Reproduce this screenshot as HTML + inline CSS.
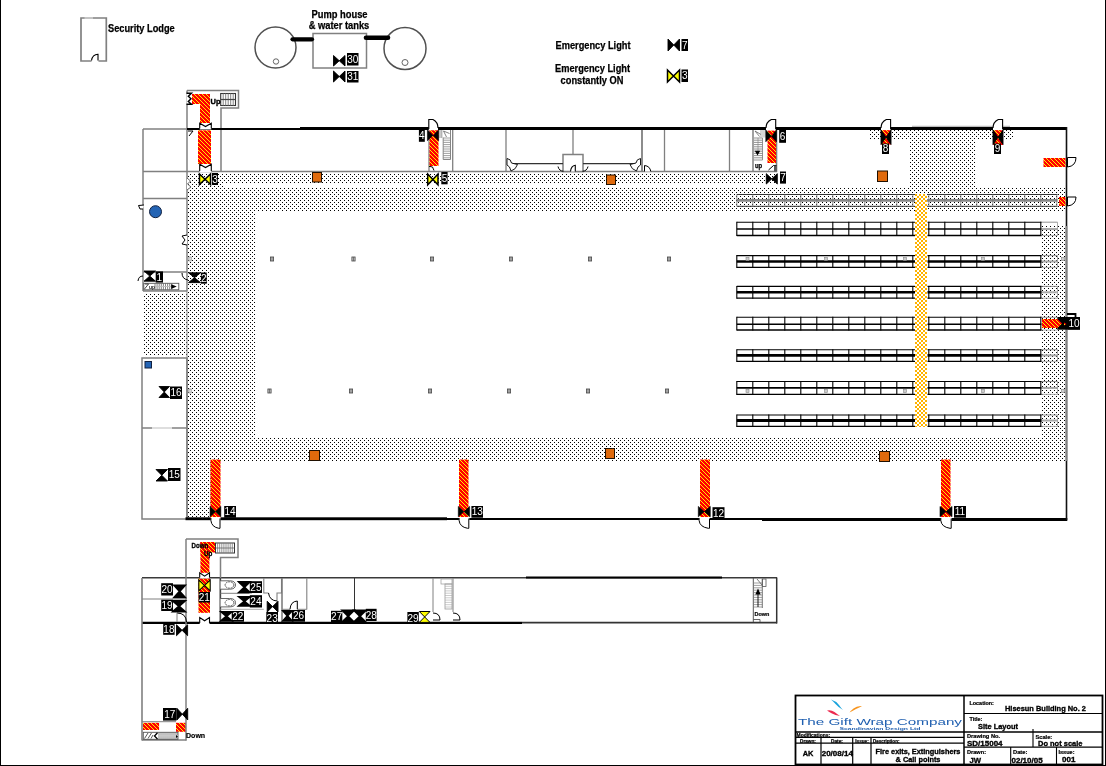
<!DOCTYPE html>
<html><head><meta charset="utf-8"><title>Site Layout</title>
<style>
html,body{margin:0;padding:0;background:#fff;}
body{width:1106px;height:766px;overflow:hidden;font-family:"Liberation Sans",sans-serif;}
svg{display:block;font-family:"Liberation Sans",sans-serif;will-change:transform;}
</style></head><body>
<svg width="1106" height="766" viewBox="0 0 1106 766">
<defs>
<pattern id="dots" x="0" y="0" width="4" height="4" patternUnits="userSpaceOnUse">
<rect x="0" y="0" width="1" height="1" fill="#000"/><rect x="2" y="2" width="1" height="1" fill="#000"/>
</pattern>
<pattern id="amber" x="1" y="0" width="4" height="4" patternUnits="userSpaceOnUse">
<rect x="0" y="0" width="4" height="4" fill="#fff"/><rect x="0" y="0" width="2" height="2" fill="#FFB400"/><rect x="2" y="2" width="2" height="2" fill="#FFB400"/>
</pattern>
<pattern id="hatch" x="0" y="0" width="4" height="4" patternUnits="userSpaceOnUse">
<rect x="0" y="0" width="4" height="4" fill="#FF0000"/>
<path d="M-1 -1L5 5M-1 3L1 5M3 -1L5 1" stroke="#FFEE00" stroke-width="1" fill="none"/>
</pattern>
</defs>
<rect x="0" y="0" width="1106" height="766" fill="#fff"/>
<rect x="188" y="173" width="589" height="10.5" fill="url(#dots)" stroke="none" stroke-width="1" shape-rendering="crispEdges"/>
<rect x="188" y="183" width="35" height="5" fill="url(#dots)" stroke="none" stroke-width="1" shape-rendering="crispEdges"/>
<rect x="188" y="187.5" width="878" height="23.5" fill="url(#dots)" stroke="none" stroke-width="1" shape-rendering="crispEdges"/>
<rect x="188" y="211" width="67.5" height="227" fill="url(#dots)" stroke="none" stroke-width="1" shape-rendering="crispEdges"/>
<rect x="188" y="438" width="878" height="23.5" fill="url(#dots)" stroke="none" stroke-width="1" shape-rendering="crispEdges"/>
<rect x="188" y="461" width="22.5" height="57" fill="url(#dots)" stroke="none" stroke-width="1" shape-rendering="crispEdges"/>
<rect x="1041.5" y="225" width="24.5" height="213" fill="url(#dots)" stroke="none" stroke-width="1" shape-rendering="crispEdges"/>
<rect x="908.5" y="130" width="67.0" height="57" fill="url(#dots)" stroke="none" stroke-width="1" shape-rendering="crispEdges"/>
<rect x="869" y="130" width="145" height="9.5" fill="url(#dots)" stroke="none" stroke-width="1" shape-rendering="crispEdges"/>
<rect x="143.7" y="293.5" width="43.3" height="62.5" fill="url(#dots)" stroke="none" stroke-width="1" shape-rendering="crispEdges"/>
<line x1="736.8" y1="194.5" x2="1057.5" y2="194.5" stroke="#333" stroke-width="1" />
<line x1="736.8" y1="206.3" x2="1057.5" y2="206.3" stroke="#333" stroke-width="1" />
<line x1="736.8" y1="200.4" x2="1057.5" y2="200.4" stroke="#888" stroke-width="2.6" />
<line x1="736.8" y1="194.5" x2="736.8" y2="206.3" stroke="#777" stroke-width="0.8" />
<line x1="752.8" y1="194.5" x2="752.8" y2="206.3" stroke="#777" stroke-width="0.8" />
<line x1="768.8" y1="194.5" x2="768.8" y2="206.3" stroke="#777" stroke-width="0.8" />
<line x1="784.8" y1="194.5" x2="784.8" y2="206.3" stroke="#777" stroke-width="0.8" />
<line x1="800.8" y1="194.5" x2="800.8" y2="206.3" stroke="#777" stroke-width="0.8" />
<line x1="816.8" y1="194.5" x2="816.8" y2="206.3" stroke="#777" stroke-width="0.8" />
<line x1="832.8" y1="194.5" x2="832.8" y2="206.3" stroke="#777" stroke-width="0.8" />
<line x1="848.8" y1="194.5" x2="848.8" y2="206.3" stroke="#777" stroke-width="0.8" />
<line x1="864.8" y1="194.5" x2="864.8" y2="206.3" stroke="#777" stroke-width="0.8" />
<line x1="880.8" y1="194.5" x2="880.8" y2="206.3" stroke="#777" stroke-width="0.8" />
<line x1="896.8" y1="194.5" x2="896.8" y2="206.3" stroke="#777" stroke-width="0.8" />
<line x1="912.8" y1="194.5" x2="912.8" y2="206.3" stroke="#777" stroke-width="0.8" />
<line x1="928.8" y1="194.5" x2="928.8" y2="206.3" stroke="#777" stroke-width="0.8" />
<line x1="944.8" y1="194.5" x2="944.8" y2="206.3" stroke="#777" stroke-width="0.8" />
<line x1="960.8" y1="194.5" x2="960.8" y2="206.3" stroke="#777" stroke-width="0.8" />
<line x1="976.8" y1="194.5" x2="976.8" y2="206.3" stroke="#777" stroke-width="0.8" />
<line x1="992.8" y1="194.5" x2="992.8" y2="206.3" stroke="#777" stroke-width="0.8" />
<line x1="1008.8" y1="194.5" x2="1008.8" y2="206.3" stroke="#777" stroke-width="0.8" />
<line x1="1024.8" y1="194.5" x2="1024.8" y2="206.3" stroke="#777" stroke-width="0.8" />
<line x1="1040.8" y1="194.5" x2="1040.8" y2="206.3" stroke="#777" stroke-width="0.8" />
<line x1="1056.8" y1="194.5" x2="1056.8" y2="206.3" stroke="#777" stroke-width="0.8" />
<rect x="736.8" y="222.2" width="178.2" height="13.3" fill="#fff" stroke="none" stroke-width="1" />
<line x1="736.8" y1="222.2" x2="915" y2="222.2" stroke="#000" stroke-width="1.1" />
<line x1="736.8" y1="235.5" x2="915" y2="235.5" stroke="#000" stroke-width="1.3" />
<line x1="736.8" y1="229" x2="915" y2="229" stroke="#000" stroke-width="1.6" />
<rect x="927.5" y="222.2" width="114.0" height="13.3" fill="#fff" stroke="none" stroke-width="1" />
<line x1="927.5" y1="222.2" x2="1041.5" y2="222.2" stroke="#000" stroke-width="1.1" />
<line x1="927.5" y1="235.5" x2="1041.5" y2="235.5" stroke="#000" stroke-width="1.3" />
<line x1="927.5" y1="229" x2="1041.5" y2="229" stroke="#000" stroke-width="1.6" />
<line x1="1041.5" y1="222.2" x2="1057.5" y2="222.2" stroke="#777" stroke-width="0.8" />
<line x1="1041.5" y1="235.5" x2="1057.5" y2="235.5" stroke="#999" stroke-width="0.8" />
<line x1="1041.5" y1="229" x2="1057.5" y2="229" stroke="#aaa" stroke-width="2" />
<line x1="1057.5" y1="222.2" x2="1057.5" y2="235.5" stroke="#999" stroke-width="0.8" />
<line x1="736.8" y1="221.7" x2="736.8" y2="236.1" stroke="#000" stroke-width="1.1" />
<line x1="752.8" y1="221.7" x2="752.8" y2="236.1" stroke="#000" stroke-width="1.1" />
<line x1="768.8" y1="221.7" x2="768.8" y2="236.1" stroke="#000" stroke-width="1.1" />
<line x1="784.8" y1="221.7" x2="784.8" y2="236.1" stroke="#000" stroke-width="1.1" />
<line x1="800.8" y1="221.7" x2="800.8" y2="236.1" stroke="#000" stroke-width="1.1" />
<line x1="816.8" y1="221.7" x2="816.8" y2="236.1" stroke="#000" stroke-width="1.1" />
<line x1="832.8" y1="221.7" x2="832.8" y2="236.1" stroke="#000" stroke-width="1.1" />
<line x1="848.8" y1="221.7" x2="848.8" y2="236.1" stroke="#000" stroke-width="1.1" />
<line x1="864.8" y1="221.7" x2="864.8" y2="236.1" stroke="#000" stroke-width="1.1" />
<line x1="880.8" y1="221.7" x2="880.8" y2="236.1" stroke="#000" stroke-width="1.1" />
<line x1="896.8" y1="221.7" x2="896.8" y2="236.1" stroke="#000" stroke-width="1.1" />
<line x1="912.8" y1="221.7" x2="912.8" y2="236.1" stroke="#000" stroke-width="1.1" />
<line x1="928.8" y1="221.7" x2="928.8" y2="236.1" stroke="#000" stroke-width="1.1" />
<line x1="944.8" y1="221.7" x2="944.8" y2="236.1" stroke="#000" stroke-width="1.1" />
<line x1="960.8" y1="221.7" x2="960.8" y2="236.1" stroke="#000" stroke-width="1.1" />
<line x1="976.8" y1="221.7" x2="976.8" y2="236.1" stroke="#000" stroke-width="1.1" />
<line x1="992.8" y1="221.7" x2="992.8" y2="236.1" stroke="#000" stroke-width="1.1" />
<line x1="1008.8" y1="221.7" x2="1008.8" y2="236.1" stroke="#000" stroke-width="1.1" />
<line x1="1024.8" y1="221.7" x2="1024.8" y2="236.1" stroke="#000" stroke-width="1.1" />
<line x1="1040.8" y1="221.7" x2="1040.8" y2="236.1" stroke="#000" stroke-width="1.1" />
<rect x="736.8" y="255.6" width="178.2" height="11.8" fill="#fff" stroke="none" stroke-width="1" />
<line x1="736.8" y1="255.6" x2="915" y2="255.6" stroke="#000" stroke-width="1.1" />
<line x1="736.8" y1="267.4" x2="915" y2="267.4" stroke="#000" stroke-width="1.3" />
<line x1="736.8" y1="261.5" x2="915" y2="261.5" stroke="#000" stroke-width="2.6" />
<rect x="927.5" y="255.6" width="114.0" height="11.8" fill="#fff" stroke="none" stroke-width="1" />
<line x1="927.5" y1="255.6" x2="1041.5" y2="255.6" stroke="#000" stroke-width="1.1" />
<line x1="927.5" y1="267.4" x2="1041.5" y2="267.4" stroke="#000" stroke-width="1.3" />
<line x1="927.5" y1="261.5" x2="1041.5" y2="261.5" stroke="#000" stroke-width="2.6" />
<line x1="1041.5" y1="255.6" x2="1057.5" y2="255.6" stroke="#777" stroke-width="0.8" />
<line x1="1041.5" y1="267.4" x2="1057.5" y2="267.4" stroke="#999" stroke-width="0.8" />
<line x1="1041.5" y1="261.5" x2="1057.5" y2="261.5" stroke="#aaa" stroke-width="2" />
<line x1="1057.5" y1="255.6" x2="1057.5" y2="267.4" stroke="#999" stroke-width="0.8" />
<line x1="736.8" y1="255.1" x2="736.8" y2="268.0" stroke="#000" stroke-width="1.1" />
<line x1="752.8" y1="255.1" x2="752.8" y2="268.0" stroke="#000" stroke-width="1.1" />
<line x1="768.8" y1="255.1" x2="768.8" y2="268.0" stroke="#000" stroke-width="1.1" />
<line x1="784.8" y1="255.1" x2="784.8" y2="268.0" stroke="#000" stroke-width="1.1" />
<line x1="800.8" y1="255.1" x2="800.8" y2="268.0" stroke="#000" stroke-width="1.1" />
<line x1="816.8" y1="255.1" x2="816.8" y2="268.0" stroke="#000" stroke-width="1.1" />
<line x1="832.8" y1="255.1" x2="832.8" y2="268.0" stroke="#000" stroke-width="1.1" />
<line x1="848.8" y1="255.1" x2="848.8" y2="268.0" stroke="#000" stroke-width="1.1" />
<line x1="864.8" y1="255.1" x2="864.8" y2="268.0" stroke="#000" stroke-width="1.1" />
<line x1="880.8" y1="255.1" x2="880.8" y2="268.0" stroke="#000" stroke-width="1.1" />
<line x1="896.8" y1="255.1" x2="896.8" y2="268.0" stroke="#000" stroke-width="1.1" />
<line x1="912.8" y1="255.1" x2="912.8" y2="268.0" stroke="#000" stroke-width="1.1" />
<line x1="928.8" y1="255.1" x2="928.8" y2="268.0" stroke="#000" stroke-width="1.1" />
<line x1="944.8" y1="255.1" x2="944.8" y2="268.0" stroke="#000" stroke-width="1.1" />
<line x1="960.8" y1="255.1" x2="960.8" y2="268.0" stroke="#000" stroke-width="1.1" />
<line x1="976.8" y1="255.1" x2="976.8" y2="268.0" stroke="#000" stroke-width="1.1" />
<line x1="992.8" y1="255.1" x2="992.8" y2="268.0" stroke="#000" stroke-width="1.1" />
<line x1="1008.8" y1="255.1" x2="1008.8" y2="268.0" stroke="#000" stroke-width="1.1" />
<line x1="1024.8" y1="255.1" x2="1024.8" y2="268.0" stroke="#000" stroke-width="1.1" />
<line x1="1040.8" y1="255.1" x2="1040.8" y2="268.0" stroke="#000" stroke-width="1.1" />
<rect x="736.8" y="286.4" width="178.2" height="11.8" fill="#fff" stroke="none" stroke-width="1" />
<line x1="736.8" y1="286.4" x2="915" y2="286.4" stroke="#000" stroke-width="1.1" />
<line x1="736.8" y1="298.2" x2="915" y2="298.2" stroke="#000" stroke-width="1.3" />
<line x1="736.8" y1="292.3" x2="915" y2="292.3" stroke="#000" stroke-width="2.6" />
<rect x="927.5" y="286.4" width="114.0" height="11.8" fill="#fff" stroke="none" stroke-width="1" />
<line x1="927.5" y1="286.4" x2="1041.5" y2="286.4" stroke="#000" stroke-width="1.1" />
<line x1="927.5" y1="298.2" x2="1041.5" y2="298.2" stroke="#000" stroke-width="1.3" />
<line x1="927.5" y1="292.3" x2="1041.5" y2="292.3" stroke="#000" stroke-width="2.6" />
<line x1="1041.5" y1="286.4" x2="1057.5" y2="286.4" stroke="#777" stroke-width="0.8" />
<line x1="1041.5" y1="298.2" x2="1057.5" y2="298.2" stroke="#999" stroke-width="0.8" />
<line x1="1041.5" y1="292.3" x2="1057.5" y2="292.3" stroke="#aaa" stroke-width="2" />
<line x1="1057.5" y1="286.4" x2="1057.5" y2="298.2" stroke="#999" stroke-width="0.8" />
<line x1="736.8" y1="285.9" x2="736.8" y2="298.8" stroke="#000" stroke-width="1.1" />
<line x1="752.8" y1="285.9" x2="752.8" y2="298.8" stroke="#000" stroke-width="1.1" />
<line x1="768.8" y1="285.9" x2="768.8" y2="298.8" stroke="#000" stroke-width="1.1" />
<line x1="784.8" y1="285.9" x2="784.8" y2="298.8" stroke="#000" stroke-width="1.1" />
<line x1="800.8" y1="285.9" x2="800.8" y2="298.8" stroke="#000" stroke-width="1.1" />
<line x1="816.8" y1="285.9" x2="816.8" y2="298.8" stroke="#000" stroke-width="1.1" />
<line x1="832.8" y1="285.9" x2="832.8" y2="298.8" stroke="#000" stroke-width="1.1" />
<line x1="848.8" y1="285.9" x2="848.8" y2="298.8" stroke="#000" stroke-width="1.1" />
<line x1="864.8" y1="285.9" x2="864.8" y2="298.8" stroke="#000" stroke-width="1.1" />
<line x1="880.8" y1="285.9" x2="880.8" y2="298.8" stroke="#000" stroke-width="1.1" />
<line x1="896.8" y1="285.9" x2="896.8" y2="298.8" stroke="#000" stroke-width="1.1" />
<line x1="912.8" y1="285.9" x2="912.8" y2="298.8" stroke="#000" stroke-width="1.1" />
<line x1="928.8" y1="285.9" x2="928.8" y2="298.8" stroke="#000" stroke-width="1.1" />
<line x1="944.8" y1="285.9" x2="944.8" y2="298.8" stroke="#000" stroke-width="1.1" />
<line x1="960.8" y1="285.9" x2="960.8" y2="298.8" stroke="#000" stroke-width="1.1" />
<line x1="976.8" y1="285.9" x2="976.8" y2="298.8" stroke="#000" stroke-width="1.1" />
<line x1="992.8" y1="285.9" x2="992.8" y2="298.8" stroke="#000" stroke-width="1.1" />
<line x1="1008.8" y1="285.9" x2="1008.8" y2="298.8" stroke="#000" stroke-width="1.1" />
<line x1="1024.8" y1="285.9" x2="1024.8" y2="298.8" stroke="#000" stroke-width="1.1" />
<line x1="1040.8" y1="285.9" x2="1040.8" y2="298.8" stroke="#000" stroke-width="1.1" />
<rect x="736.8" y="317.3" width="178.2" height="12.7" fill="#fff" stroke="none" stroke-width="1" />
<line x1="736.8" y1="317.3" x2="915" y2="317.3" stroke="#000" stroke-width="1.1" />
<line x1="736.8" y1="330" x2="915" y2="330" stroke="#000" stroke-width="1.3" />
<line x1="736.8" y1="324.2" x2="915" y2="324.2" stroke="#000" stroke-width="1.6" />
<rect x="927.5" y="317.3" width="114.0" height="12.7" fill="#fff" stroke="none" stroke-width="1" />
<line x1="927.5" y1="317.3" x2="1041.5" y2="317.3" stroke="#000" stroke-width="1.1" />
<line x1="927.5" y1="330" x2="1041.5" y2="330" stroke="#000" stroke-width="1.3" />
<line x1="927.5" y1="324.2" x2="1041.5" y2="324.2" stroke="#000" stroke-width="1.6" />
<line x1="1041.5" y1="317.3" x2="1057.5" y2="317.3" stroke="#777" stroke-width="0.8" />
<line x1="1041.5" y1="330" x2="1057.5" y2="330" stroke="#999" stroke-width="0.8" />
<line x1="1041.5" y1="324.2" x2="1057.5" y2="324.2" stroke="#aaa" stroke-width="2" />
<line x1="1057.5" y1="317.3" x2="1057.5" y2="330" stroke="#999" stroke-width="0.8" />
<line x1="736.8" y1="316.8" x2="736.8" y2="330.6" stroke="#000" stroke-width="1.1" />
<line x1="752.8" y1="316.8" x2="752.8" y2="330.6" stroke="#000" stroke-width="1.1" />
<line x1="768.8" y1="316.8" x2="768.8" y2="330.6" stroke="#000" stroke-width="1.1" />
<line x1="784.8" y1="316.8" x2="784.8" y2="330.6" stroke="#000" stroke-width="1.1" />
<line x1="800.8" y1="316.8" x2="800.8" y2="330.6" stroke="#000" stroke-width="1.1" />
<line x1="816.8" y1="316.8" x2="816.8" y2="330.6" stroke="#000" stroke-width="1.1" />
<line x1="832.8" y1="316.8" x2="832.8" y2="330.6" stroke="#000" stroke-width="1.1" />
<line x1="848.8" y1="316.8" x2="848.8" y2="330.6" stroke="#000" stroke-width="1.1" />
<line x1="864.8" y1="316.8" x2="864.8" y2="330.6" stroke="#000" stroke-width="1.1" />
<line x1="880.8" y1="316.8" x2="880.8" y2="330.6" stroke="#000" stroke-width="1.1" />
<line x1="896.8" y1="316.8" x2="896.8" y2="330.6" stroke="#000" stroke-width="1.1" />
<line x1="912.8" y1="316.8" x2="912.8" y2="330.6" stroke="#000" stroke-width="1.1" />
<line x1="928.8" y1="316.8" x2="928.8" y2="330.6" stroke="#000" stroke-width="1.1" />
<line x1="944.8" y1="316.8" x2="944.8" y2="330.6" stroke="#000" stroke-width="1.1" />
<line x1="960.8" y1="316.8" x2="960.8" y2="330.6" stroke="#000" stroke-width="1.1" />
<line x1="976.8" y1="316.8" x2="976.8" y2="330.6" stroke="#000" stroke-width="1.1" />
<line x1="992.8" y1="316.8" x2="992.8" y2="330.6" stroke="#000" stroke-width="1.1" />
<line x1="1008.8" y1="316.8" x2="1008.8" y2="330.6" stroke="#000" stroke-width="1.1" />
<line x1="1024.8" y1="316.8" x2="1024.8" y2="330.6" stroke="#000" stroke-width="1.1" />
<line x1="1040.8" y1="316.8" x2="1040.8" y2="330.6" stroke="#000" stroke-width="1.1" />
<rect x="736.8" y="349.7" width="178.2" height="11.7" fill="#fff" stroke="none" stroke-width="1" />
<line x1="736.8" y1="349.7" x2="915" y2="349.7" stroke="#000" stroke-width="1.1" />
<line x1="736.8" y1="361.4" x2="915" y2="361.4" stroke="#000" stroke-width="1.3" />
<line x1="736.8" y1="355.4" x2="915" y2="355.4" stroke="#000" stroke-width="2.8" />
<rect x="927.5" y="349.7" width="114.0" height="11.7" fill="#fff" stroke="none" stroke-width="1" />
<line x1="927.5" y1="349.7" x2="1041.5" y2="349.7" stroke="#000" stroke-width="1.1" />
<line x1="927.5" y1="361.4" x2="1041.5" y2="361.4" stroke="#000" stroke-width="1.3" />
<line x1="927.5" y1="355.4" x2="1041.5" y2="355.4" stroke="#000" stroke-width="2.8" />
<line x1="1041.5" y1="349.7" x2="1057.5" y2="349.7" stroke="#777" stroke-width="0.8" />
<line x1="1041.5" y1="361.4" x2="1057.5" y2="361.4" stroke="#999" stroke-width="0.8" />
<line x1="1041.5" y1="355.4" x2="1057.5" y2="355.4" stroke="#aaa" stroke-width="2" />
<line x1="1057.5" y1="349.7" x2="1057.5" y2="361.4" stroke="#999" stroke-width="0.8" />
<line x1="736.8" y1="349.2" x2="736.8" y2="362.0" stroke="#000" stroke-width="1.1" />
<line x1="752.8" y1="349.2" x2="752.8" y2="362.0" stroke="#000" stroke-width="1.1" />
<line x1="768.8" y1="349.2" x2="768.8" y2="362.0" stroke="#000" stroke-width="1.1" />
<line x1="784.8" y1="349.2" x2="784.8" y2="362.0" stroke="#000" stroke-width="1.1" />
<line x1="800.8" y1="349.2" x2="800.8" y2="362.0" stroke="#000" stroke-width="1.1" />
<line x1="816.8" y1="349.2" x2="816.8" y2="362.0" stroke="#000" stroke-width="1.1" />
<line x1="832.8" y1="349.2" x2="832.8" y2="362.0" stroke="#000" stroke-width="1.1" />
<line x1="848.8" y1="349.2" x2="848.8" y2="362.0" stroke="#000" stroke-width="1.1" />
<line x1="864.8" y1="349.2" x2="864.8" y2="362.0" stroke="#000" stroke-width="1.1" />
<line x1="880.8" y1="349.2" x2="880.8" y2="362.0" stroke="#000" stroke-width="1.1" />
<line x1="896.8" y1="349.2" x2="896.8" y2="362.0" stroke="#000" stroke-width="1.1" />
<line x1="912.8" y1="349.2" x2="912.8" y2="362.0" stroke="#000" stroke-width="1.1" />
<line x1="928.8" y1="349.2" x2="928.8" y2="362.0" stroke="#000" stroke-width="1.1" />
<line x1="944.8" y1="349.2" x2="944.8" y2="362.0" stroke="#000" stroke-width="1.1" />
<line x1="960.8" y1="349.2" x2="960.8" y2="362.0" stroke="#000" stroke-width="1.1" />
<line x1="976.8" y1="349.2" x2="976.8" y2="362.0" stroke="#000" stroke-width="1.1" />
<line x1="992.8" y1="349.2" x2="992.8" y2="362.0" stroke="#000" stroke-width="1.1" />
<line x1="1008.8" y1="349.2" x2="1008.8" y2="362.0" stroke="#000" stroke-width="1.1" />
<line x1="1024.8" y1="349.2" x2="1024.8" y2="362.0" stroke="#000" stroke-width="1.1" />
<line x1="1040.8" y1="349.2" x2="1040.8" y2="362.0" stroke="#000" stroke-width="1.1" />
<rect x="736.8" y="381.5" width="178.2" height="12.9" fill="#fff" stroke="none" stroke-width="1" />
<line x1="736.8" y1="381.5" x2="915" y2="381.5" stroke="#000" stroke-width="1.1" />
<line x1="736.8" y1="394.4" x2="915" y2="394.4" stroke="#000" stroke-width="1.3" />
<line x1="736.8" y1="387.9" x2="915" y2="387.9" stroke="#000" stroke-width="1.8" />
<rect x="927.5" y="381.5" width="114.0" height="12.9" fill="#fff" stroke="none" stroke-width="1" />
<line x1="927.5" y1="381.5" x2="1041.5" y2="381.5" stroke="#000" stroke-width="1.1" />
<line x1="927.5" y1="394.4" x2="1041.5" y2="394.4" stroke="#000" stroke-width="1.3" />
<line x1="927.5" y1="387.9" x2="1041.5" y2="387.9" stroke="#000" stroke-width="1.8" />
<line x1="1041.5" y1="381.5" x2="1057.5" y2="381.5" stroke="#777" stroke-width="0.8" />
<line x1="1041.5" y1="394.4" x2="1057.5" y2="394.4" stroke="#999" stroke-width="0.8" />
<line x1="1041.5" y1="387.9" x2="1057.5" y2="387.9" stroke="#aaa" stroke-width="2" />
<line x1="1057.5" y1="381.5" x2="1057.5" y2="394.4" stroke="#999" stroke-width="0.8" />
<line x1="736.8" y1="381.0" x2="736.8" y2="395.0" stroke="#000" stroke-width="1.1" />
<line x1="752.8" y1="381.0" x2="752.8" y2="395.0" stroke="#000" stroke-width="1.1" />
<line x1="768.8" y1="381.0" x2="768.8" y2="395.0" stroke="#000" stroke-width="1.1" />
<line x1="784.8" y1="381.0" x2="784.8" y2="395.0" stroke="#000" stroke-width="1.1" />
<line x1="800.8" y1="381.0" x2="800.8" y2="395.0" stroke="#000" stroke-width="1.1" />
<line x1="816.8" y1="381.0" x2="816.8" y2="395.0" stroke="#000" stroke-width="1.1" />
<line x1="832.8" y1="381.0" x2="832.8" y2="395.0" stroke="#000" stroke-width="1.1" />
<line x1="848.8" y1="381.0" x2="848.8" y2="395.0" stroke="#000" stroke-width="1.1" />
<line x1="864.8" y1="381.0" x2="864.8" y2="395.0" stroke="#000" stroke-width="1.1" />
<line x1="880.8" y1="381.0" x2="880.8" y2="395.0" stroke="#000" stroke-width="1.1" />
<line x1="896.8" y1="381.0" x2="896.8" y2="395.0" stroke="#000" stroke-width="1.1" />
<line x1="912.8" y1="381.0" x2="912.8" y2="395.0" stroke="#000" stroke-width="1.1" />
<line x1="928.8" y1="381.0" x2="928.8" y2="395.0" stroke="#000" stroke-width="1.1" />
<line x1="944.8" y1="381.0" x2="944.8" y2="395.0" stroke="#000" stroke-width="1.1" />
<line x1="960.8" y1="381.0" x2="960.8" y2="395.0" stroke="#000" stroke-width="1.1" />
<line x1="976.8" y1="381.0" x2="976.8" y2="395.0" stroke="#000" stroke-width="1.1" />
<line x1="992.8" y1="381.0" x2="992.8" y2="395.0" stroke="#000" stroke-width="1.1" />
<line x1="1008.8" y1="381.0" x2="1008.8" y2="395.0" stroke="#000" stroke-width="1.1" />
<line x1="1024.8" y1="381.0" x2="1024.8" y2="395.0" stroke="#000" stroke-width="1.1" />
<line x1="1040.8" y1="381.0" x2="1040.8" y2="395.0" stroke="#000" stroke-width="1.1" />
<rect x="736.8" y="415" width="178.2" height="11.4" fill="#fff" stroke="none" stroke-width="1" />
<line x1="736.8" y1="415" x2="915" y2="415" stroke="#000" stroke-width="1.1" />
<line x1="736.8" y1="426.4" x2="915" y2="426.4" stroke="#000" stroke-width="1.3" />
<line x1="736.8" y1="420.5" x2="915" y2="420.5" stroke="#000" stroke-width="3" />
<rect x="927.5" y="415" width="114.0" height="11.4" fill="#fff" stroke="none" stroke-width="1" />
<line x1="927.5" y1="415" x2="1041.5" y2="415" stroke="#000" stroke-width="1.1" />
<line x1="927.5" y1="426.4" x2="1041.5" y2="426.4" stroke="#000" stroke-width="1.3" />
<line x1="927.5" y1="420.5" x2="1041.5" y2="420.5" stroke="#000" stroke-width="3" />
<line x1="1041.5" y1="415" x2="1057.5" y2="415" stroke="#777" stroke-width="0.8" />
<line x1="1041.5" y1="426.4" x2="1057.5" y2="426.4" stroke="#999" stroke-width="0.8" />
<line x1="1041.5" y1="420.5" x2="1057.5" y2="420.5" stroke="#aaa" stroke-width="2" />
<line x1="1057.5" y1="415" x2="1057.5" y2="426.4" stroke="#999" stroke-width="0.8" />
<line x1="736.8" y1="414.5" x2="736.8" y2="427.0" stroke="#000" stroke-width="1.1" />
<line x1="752.8" y1="414.5" x2="752.8" y2="427.0" stroke="#000" stroke-width="1.1" />
<line x1="768.8" y1="414.5" x2="768.8" y2="427.0" stroke="#000" stroke-width="1.1" />
<line x1="784.8" y1="414.5" x2="784.8" y2="427.0" stroke="#000" stroke-width="1.1" />
<line x1="800.8" y1="414.5" x2="800.8" y2="427.0" stroke="#000" stroke-width="1.1" />
<line x1="816.8" y1="414.5" x2="816.8" y2="427.0" stroke="#000" stroke-width="1.1" />
<line x1="832.8" y1="414.5" x2="832.8" y2="427.0" stroke="#000" stroke-width="1.1" />
<line x1="848.8" y1="414.5" x2="848.8" y2="427.0" stroke="#000" stroke-width="1.1" />
<line x1="864.8" y1="414.5" x2="864.8" y2="427.0" stroke="#000" stroke-width="1.1" />
<line x1="880.8" y1="414.5" x2="880.8" y2="427.0" stroke="#000" stroke-width="1.1" />
<line x1="896.8" y1="414.5" x2="896.8" y2="427.0" stroke="#000" stroke-width="1.1" />
<line x1="912.8" y1="414.5" x2="912.8" y2="427.0" stroke="#000" stroke-width="1.1" />
<line x1="928.8" y1="414.5" x2="928.8" y2="427.0" stroke="#000" stroke-width="1.1" />
<line x1="944.8" y1="414.5" x2="944.8" y2="427.0" stroke="#000" stroke-width="1.1" />
<line x1="960.8" y1="414.5" x2="960.8" y2="427.0" stroke="#000" stroke-width="1.1" />
<line x1="976.8" y1="414.5" x2="976.8" y2="427.0" stroke="#000" stroke-width="1.1" />
<line x1="992.8" y1="414.5" x2="992.8" y2="427.0" stroke="#000" stroke-width="1.1" />
<line x1="1008.8" y1="414.5" x2="1008.8" y2="427.0" stroke="#000" stroke-width="1.1" />
<line x1="1024.8" y1="414.5" x2="1024.8" y2="427.0" stroke="#000" stroke-width="1.1" />
<line x1="1040.8" y1="414.5" x2="1040.8" y2="427.0" stroke="#000" stroke-width="1.1" />
<rect x="915" y="194" width="12" height="233" fill="url(#amber)" stroke="none" stroke-width="1" shape-rendering="crispEdges"/>
<line x1="143" y1="129" x2="143" y2="291" stroke="#808080" stroke-width="1.5" />
<line x1="143" y1="129" x2="187" y2="129" stroke="#808080" stroke-width="1.5" />
<line x1="143" y1="171.5" x2="777" y2="171.5" stroke="#808080" stroke-width="1.3" />
<line x1="143" y1="198.5" x2="187" y2="198.5" stroke="#808080" stroke-width="1.5" />
<line x1="143" y1="272" x2="187" y2="272" stroke="#808080" stroke-width="1.5" />
<line x1="143" y1="291" x2="187" y2="291" stroke="#808080" stroke-width="1.5" />
<line x1="187" y1="90.5" x2="187" y2="291" stroke="#808080" stroke-width="1.5" />
<line x1="187" y1="291" x2="187" y2="358" stroke="#888" stroke-width="1" />
<line x1="187" y1="358" x2="187" y2="519" stroke="#808080" stroke-width="1.5" />
<rect x="142" y="358" width="45" height="161" fill="none" stroke="#808080" stroke-width="1.5" />
<line x1="142" y1="428" x2="187" y2="428" stroke="#808080" stroke-width="1.5" />
<line x1="152" y1="428" x2="172" y2="428" stroke="#eee" stroke-width="1.6" />
<path d="M187 90.5H238.5V108H221V171.5" fill="none" stroke="#808080" stroke-width="1.5"/>
<rect x="220.7" y="93.5" width="14.8" height="12.0" fill="none" stroke="#333" stroke-width="1.1" />
<line x1="223.2" y1="93.5" x2="223.2" y2="105.5" stroke="#777" stroke-width="0.9" />
<line x1="225.7" y1="93.5" x2="225.7" y2="105.5" stroke="#777" stroke-width="0.9" />
<line x1="228.2" y1="93.5" x2="228.2" y2="105.5" stroke="#777" stroke-width="0.9" />
<line x1="230.7" y1="93.5" x2="230.7" y2="105.5" stroke="#777" stroke-width="0.9" />
<line x1="233.2" y1="93.5" x2="233.2" y2="105.5" stroke="#777" stroke-width="0.9" />
<line x1="220.7" y1="99.5" x2="235.5" y2="99.5" stroke="#444" stroke-width="1.2" />
<line x1="429" y1="128" x2="429" y2="171.5" stroke="#808080" stroke-width="1.3" />
<line x1="452.7" y1="128" x2="452.7" y2="171.5" stroke="#808080" stroke-width="1.3" />
<line x1="506" y1="128" x2="506" y2="171.5" stroke="#808080" stroke-width="1.3" />
<line x1="573" y1="128" x2="573" y2="154" stroke="#808080" stroke-width="1.3" />
<line x1="642" y1="128" x2="642" y2="171.5" stroke="#808080" stroke-width="1.8" />
<line x1="664.5" y1="128" x2="664.5" y2="171.5" stroke="#808080" stroke-width="1.3" />
<line x1="729.5" y1="128" x2="729.5" y2="171.5" stroke="#808080" stroke-width="1.3" />
<line x1="753" y1="128" x2="753" y2="171.5" stroke="#808080" stroke-width="1.5" />
<line x1="776.5" y1="128" x2="776.5" y2="172" stroke="#808080" stroke-width="1.6" />
<rect x="563" y="154.5" width="20" height="17.0" fill="#fff" stroke="#808080" stroke-width="1.5" />
<line x1="511.5" y1="163.7" x2="563" y2="163.7" stroke="#333" stroke-width="1.2" />
<line x1="583" y1="163.7" x2="635.5" y2="163.7" stroke="#333" stroke-width="1.2" />
<path d="M507 158.5Q511 159 511.5 163L517.5 164.5Q516 169.5 511 171L509.5 167L507 165Z" fill="#fff" stroke="#000" stroke-width="0.9"/>
<path d="M640.5 158.5Q636.5 159 636 163L630 164.5Q631.5 169.5 636.5 171L638 167L640.5 165Z" fill="#fff" stroke="#000" stroke-width="0.9"/>
<path d="M558 166.5Q559 171 563.5 171.3" fill="none" stroke="#000" stroke-width="1"/><path d="M588 166.5Q587 171 582.5 171.3" fill="none" stroke="#000" stroke-width="1"/>
<path d="M570.5 171.5Q571 166 575.3 165.3V171.5" fill="#fff" stroke="#000" stroke-width="1.1"/>
<path d="M644.5 171.5V165.5Q650 166 650.8 171.5" fill="#fff" stroke="#000" stroke-width="1"/>
<line x1="443.2" y1="137.6" x2="443.2" y2="159.5" stroke="#777" stroke-width="0.9" />
<line x1="450.5" y1="130" x2="450.5" y2="159.5" stroke="#777" stroke-width="0.9" />
<line x1="443.2" y1="159.5" x2="450.5" y2="159.5" stroke="#777" stroke-width="0.9" />
<line x1="440" y1="130" x2="440" y2="138" stroke="#888" stroke-width="0.9" />
<line x1="441.8" y1="130" x2="441.8" y2="138" stroke="#888" stroke-width="0.9" />
<path d="M443.5 131L449.5 133.5M443.5 131L446.5 137" stroke="#666" stroke-width="0.8" fill="none"/>
<line x1="443.2" y1="138.0" x2="450.5" y2="138.0" stroke="#888" stroke-width="0.8" />
<line x1="443.2" y1="140.2" x2="450.5" y2="140.2" stroke="#888" stroke-width="0.8" />
<line x1="443.2" y1="142.4" x2="450.5" y2="142.4" stroke="#888" stroke-width="0.8" />
<line x1="443.2" y1="144.6" x2="450.5" y2="144.6" stroke="#888" stroke-width="0.8" />
<line x1="443.2" y1="146.8" x2="450.5" y2="146.8" stroke="#888" stroke-width="0.8" />
<line x1="443.2" y1="149.0" x2="450.5" y2="149.0" stroke="#888" stroke-width="0.8" />
<line x1="443.2" y1="151.2" x2="450.5" y2="151.2" stroke="#888" stroke-width="0.8" />
<line x1="443.2" y1="153.4" x2="450.5" y2="153.4" stroke="#888" stroke-width="0.8" />
<line x1="443.2" y1="155.6" x2="450.5" y2="155.6" stroke="#888" stroke-width="0.8" />
<line x1="443.2" y1="157.8" x2="450.5" y2="157.8" stroke="#888" stroke-width="0.8" />
<path d="M429 166.3L432.5 167L434 170.5" fill="none" stroke="#000" stroke-width="1"/>
<line x1="762.5" y1="138" x2="762.5" y2="160" stroke="#888" stroke-width="0.9" />
<line x1="753.5" y1="160" x2="762.5" y2="160" stroke="#888" stroke-width="0.9" />
<line x1="754" y1="138.0" x2="762.5" y2="138.0" stroke="#777" stroke-width="0.8" />
<line x1="754" y1="140.2" x2="762.5" y2="140.2" stroke="#777" stroke-width="0.8" />
<line x1="754" y1="142.4" x2="762.5" y2="142.4" stroke="#777" stroke-width="0.8" />
<line x1="754" y1="144.6" x2="762.5" y2="144.6" stroke="#777" stroke-width="0.8" />
<line x1="754" y1="146.8" x2="762.5" y2="146.8" stroke="#777" stroke-width="0.8" />
<line x1="754" y1="149.0" x2="762.5" y2="149.0" stroke="#777" stroke-width="0.8" />
<line x1="754" y1="151.2" x2="762.5" y2="151.2" stroke="#777" stroke-width="0.8" />
<line x1="754" y1="153.4" x2="762.5" y2="153.4" stroke="#777" stroke-width="0.8" />
<line x1="754" y1="155.6" x2="762.5" y2="155.6" stroke="#777" stroke-width="0.8" />
<line x1="754" y1="157.8" x2="762.5" y2="157.8" stroke="#777" stroke-width="0.8" />
<line x1="761" y1="130" x2="761" y2="137.5" stroke="#999" stroke-width="0.8" />
<line x1="763" y1="130" x2="763" y2="137.5" stroke="#999" stroke-width="0.8" />
<line x1="765" y1="130" x2="765" y2="137.5" stroke="#999" stroke-width="0.8" />
<path d="M755 131L761 134.5M755 131L759.5 136.5" stroke="#666" stroke-width="0.8" fill="none"/>
<line x1="758" y1="138" x2="758" y2="151" stroke="#888" stroke-width="0.7" />
<path d="M754.8 150.8H760.2L757.5 155.6Z" fill="#000"/>
<text x="755" y="167.6" font-size="6.5" text-anchor="start" fill="#000" font-weight="bold" textLength="7.23" lengthAdjust="spacingAndGlyphs" stroke="#000" stroke-width="0.25" >up</text>
<path d="M768.5 170L773.5 165.5H776.5" fill="none" stroke="#000" stroke-width="1"/>
<rect x="774" y="165.5" width="2.8" height="6.0" fill="#555" stroke="none" stroke-width="1" />
<rect x="187" y="128" width="113" height="2" fill="#000" stroke="none" stroke-width="1" shape-rendering="crispEdges"/>
<rect x="300" y="127" width="767" height="3" fill="#000" stroke="none" stroke-width="1" shape-rendering="crispEdges"/>
<rect x="185.5" y="517.3" width="261.5" height="2.9" fill="#000" stroke="none" stroke-width="1" />
<rect x="447" y="518" width="315" height="2" fill="#000" stroke="none" stroke-width="1" />
<rect x="762" y="518" width="305.3" height="3" fill="#000" stroke="none" stroke-width="1" />
<line x1="1066.5" y1="127" x2="1066.5" y2="520" stroke="#111" stroke-width="1.6" />
<line x1="1066.5" y1="226" x2="1066.5" y2="461" stroke="#808080" stroke-width="1.6" />
<line x1="912" y1="126.3" x2="1010" y2="126.3" stroke="#999" stroke-width="0.8" />
<rect x="192" y="94" width="18" height="10" fill="url(#hatch)" stroke="none" stroke-width="1" />
<rect x="200" y="104" width="10" height="19" fill="url(#hatch)" stroke="none" stroke-width="1" />
<rect x="198" y="130.3" width="13" height="33.7" fill="url(#hatch)" stroke="none" stroke-width="1" />
<rect x="429.5" y="130" width="9.0" height="36" fill="url(#hatch)" stroke="none" stroke-width="1" />
<rect x="767.5" y="130.5" width="8.5" height="32.5" fill="url(#hatch)" stroke="none" stroke-width="1" />
<rect x="881" y="130" width="10" height="14.5" fill="url(#hatch)" stroke="none" stroke-width="1" />
<rect x="993" y="130" width="10" height="15" fill="url(#hatch)" stroke="none" stroke-width="1" />
<rect x="1043.5" y="158" width="22.0" height="9" fill="url(#hatch)" stroke="none" stroke-width="1" />
<rect x="1059" y="197" width="6.5" height="9" fill="url(#hatch)" stroke="none" stroke-width="1" />
<rect x="210.5" y="459.5" width="10.0" height="58.5" fill="url(#hatch)" stroke="none" stroke-width="1" />
<rect x="459" y="459.5" width="9.5" height="58.5" fill="url(#hatch)" stroke="none" stroke-width="1" />
<rect x="700" y="459.5" width="10" height="58.5" fill="url(#hatch)" stroke="none" stroke-width="1" />
<rect x="941" y="459.5" width="9.5" height="58.5" fill="url(#hatch)" stroke="none" stroke-width="1" />
<rect x="200.4" y="542" width="9.0" height="36" fill="url(#hatch)" stroke="none" stroke-width="1" />
<rect x="198.5" y="578" width="11.5" height="34.8" fill="url(#hatch)" stroke="none" stroke-width="1" />
<rect x="200.4" y="542" width="14.6" height="10.5" fill="url(#hatch)" stroke="none" stroke-width="1" />
<rect x="143" y="722.8" width="16.1" height="7.2" fill="url(#hatch)" stroke="none" stroke-width="1" />
<rect x="176" y="722.8" width="10" height="9.0" fill="url(#hatch)" stroke="none" stroke-width="1" />
<path d="M199.7 123.3H211.3V129.5H199.7Z" fill="#fff"/><path d="M199.7 128.5V123.3L205.5 126.6L211.3 123.3V128.5" fill="none" stroke="#000" stroke-width="1.1"/>
<path d="M199.7 164.3H211.3V172H199.7Z" fill="#fff"/><path d="M199.7 171V164.3L205.5 167.60000000000002L211.3 164.3V171" fill="none" stroke="#000" stroke-width="1.1"/>
<text x="210.5" y="104.3" font-size="7.8" text-anchor="start" fill="#000" font-weight="bold" textLength="9.97" lengthAdjust="spacingAndGlyphs" stroke="#000" stroke-width="0.4" >Up</text>
<path d="M186.5 93.3H191.5L188.3 96.3L191 98.8L188.3 101.5L191.5 104.2H186.5" fill="#fff" stroke="#000" stroke-width="1.4"/>
<path d="M188 131H193L189 136" fill="none" stroke="#000" stroke-width="1"/>
<path d="M187 178L190.5 181L187.5 184L191 187L187 190" fill="#fff" stroke="#555" stroke-width="0.9"/>
<path d="M428.8 130.3V119.5H432.94Q438 122.0 438 127.5V130.3Z" fill="#fff"/>
<path d="M428.8 129V119.5H432.94Q438 122.0 438 128" fill="none" stroke="#000" stroke-width="1.1"/>
<path d="M775.7 130.3V119.5H771.34Q766 122.0 766 127.5V130.3Z" fill="#fff"/>
<path d="M775.7 129V119.5H771.34Q766 122.0 766 128" fill="none" stroke="#000" stroke-width="1.1"/>
<path d="M890.6 130.3V119.5H886.28Q881 122.0 881 127.5V130.3Z" fill="#fff"/>
<path d="M890.6 129V119.5H886.28Q881 122.0 881 128" fill="none" stroke="#000" stroke-width="1.1"/>
<path d="M1002.6 130.3V119.5H998.28Q993 122.0 993 127.5V130.3Z" fill="#fff"/>
<path d="M1002.6 129V119.5H998.28Q993 122.0 993 128" fill="none" stroke="#000" stroke-width="1.1"/>
<path d="M1067.5 157.5L1076 157.5Q1076 166 1067.5 167Z" fill="#fff" stroke="#000" stroke-width="1"/>
<path d="M1067.5 197L1076 197Q1076 205 1067.5 206Z" fill="#fff" stroke="#000" stroke-width="1"/>
<path d="M1067 314H1075.5V317.5" fill="none" stroke="#000" stroke-width="1.8"/>
<rect x="312.5" y="172.5" width="9.0" height="9.5" fill="#E06A0C" stroke="#201000" stroke-width="1" />
<rect x="606.5" y="175.0" width="9.0" height="9.5" fill="#E06A0C" stroke="#201000" stroke-width="1" />
<rect x="877.5" y="171.0" width="10.0" height="10.5" fill="#E06A0C" stroke="#201000" stroke-width="1" />
<rect x="309.5" y="450.5" width="10.0" height="10.0" fill="#E06A0C" stroke="#201000" stroke-width="1" />
<rect x="605.5" y="448.5" width="9.0" height="10.0" fill="#E06A0C" stroke="#201000" stroke-width="1" />
<rect x="879.5" y="451.5" width="10.0" height="10.0" fill="#E06A0C" stroke="#201000" stroke-width="1" />
<circle cx="155.5" cy="211.7" r="6" fill="#2464B4" stroke="#102040" stroke-width="1"/>
<rect x="145" y="361.5" width="6.5" height="6.5" fill="#2464B4" stroke="#102040" stroke-width="1" />
<rect x="270.4" y="257" width="3.2" height="4" fill="#ccc" stroke="#444" stroke-width="0.8" />
<line x1="272" y1="257" x2="272" y2="261" stroke="#555" stroke-width="0.7" />
<rect x="351.9" y="257" width="3.2" height="4" fill="#ccc" stroke="#444" stroke-width="0.8" />
<line x1="353.5" y1="257" x2="353.5" y2="261" stroke="#555" stroke-width="0.7" />
<rect x="430.4" y="257" width="3.2" height="4" fill="#ccc" stroke="#444" stroke-width="0.8" />
<line x1="432" y1="257" x2="432" y2="261" stroke="#555" stroke-width="0.7" />
<rect x="509.4" y="257" width="3.2" height="4" fill="#ccc" stroke="#444" stroke-width="0.8" />
<line x1="511" y1="257" x2="511" y2="261" stroke="#555" stroke-width="0.7" />
<rect x="588.4" y="257" width="3.2" height="4" fill="#ccc" stroke="#444" stroke-width="0.8" />
<line x1="590" y1="257" x2="590" y2="261" stroke="#555" stroke-width="0.7" />
<rect x="667.4" y="257" width="3.2" height="4" fill="#ccc" stroke="#444" stroke-width="0.8" />
<line x1="669" y1="257" x2="669" y2="261" stroke="#555" stroke-width="0.7" />
<rect x="267.9" y="389" width="3.2" height="4" fill="#ccc" stroke="#444" stroke-width="0.8" />
<line x1="269.5" y1="389" x2="269.5" y2="393" stroke="#555" stroke-width="0.7" />
<rect x="349.4" y="389" width="3.2" height="4" fill="#ccc" stroke="#444" stroke-width="0.8" />
<line x1="351" y1="389" x2="351" y2="393" stroke="#555" stroke-width="0.7" />
<rect x="428.4" y="389" width="3.2" height="4" fill="#ccc" stroke="#444" stroke-width="0.8" />
<line x1="430" y1="389" x2="430" y2="393" stroke="#555" stroke-width="0.7" />
<rect x="507.4" y="389" width="3.2" height="4" fill="#ccc" stroke="#444" stroke-width="0.8" />
<line x1="509" y1="389" x2="509" y2="393" stroke="#555" stroke-width="0.7" />
<rect x="586.4" y="389" width="3.2" height="4" fill="#ccc" stroke="#444" stroke-width="0.8" />
<line x1="588" y1="389" x2="588" y2="393" stroke="#555" stroke-width="0.7" />
<rect x="665.4" y="389" width="3.2" height="4" fill="#ccc" stroke="#444" stroke-width="0.8" />
<line x1="667" y1="389" x2="667" y2="393" stroke="#555" stroke-width="0.7" />
<rect x="188.8" y="257" width="2.4" height="4" fill="#ddd" stroke="#888" stroke-width="0.6" />
<rect x="188.8" y="389" width="2.4" height="4" fill="#ddd" stroke="#888" stroke-width="0.6" />
<rect x="746.0" y="257.5" width="3.0" height="3.0" fill="#ccc" stroke="#888" stroke-width="0.6" />
<rect x="824.5" y="257.5" width="3.0" height="3.0" fill="#ccc" stroke="#888" stroke-width="0.6" />
<rect x="903.5" y="257.5" width="3.0" height="3.0" fill="#ccc" stroke="#888" stroke-width="0.6" />
<rect x="981.5" y="257.5" width="3.0" height="3.0" fill="#ccc" stroke="#888" stroke-width="0.6" />
<rect x="1061.5" y="257.5" width="3.0" height="3.0" fill="#ccc" stroke="#888" stroke-width="0.6" />
<rect x="903.5" y="389.5" width="3.0" height="3.0" fill="#ccc" stroke="#888" stroke-width="0.6" />
<rect x="981.5" y="389.5" width="3.0" height="3.0" fill="#ccc" stroke="#888" stroke-width="0.6" />
<rect x="1061.5" y="389.5" width="3.0" height="3.0" fill="#ccc" stroke="#888" stroke-width="0.6" />
<rect x="746.0" y="389.5" width="3.0" height="3.0" fill="#ccc" stroke="#888" stroke-width="0.6" />
<rect x="824.5" y="389.5" width="3.0" height="3.0" fill="#ccc" stroke="#888" stroke-width="0.6" />
<path d="M199.5 174L205.0 179.25L199.5 184.5ZM210.5 174L205.0 179.25L210.5 184.5Z" fill="#FFFF00" stroke="#000" stroke-width="1.5" stroke-linejoin="miter"/>
<rect x="212" y="173" width="6" height="12" fill="#000" stroke="none" stroke-width="1" />
<text x="215.0" y="182.6" font-size="10" text-anchor="middle" fill="#fff">3</text>
<path d="M427.7 174L432.85 179.4L427.7 184.8ZM438 174L432.85 179.4L438 184.8Z" fill="#FFFF00" stroke="#000" stroke-width="1.5" stroke-linejoin="miter"/>
<rect x="441.3" y="172" width="6.3" height="12.3" fill="#000" stroke="none" stroke-width="1" />
<text x="444.45000000000005" y="181.75" font-size="10" text-anchor="middle" fill="#fff">5</text>
<rect x="418.9" y="129.8" width="5.9" height="12.0" fill="#000" stroke="none" stroke-width="1" />
<text x="421.85" y="139.4" font-size="10" text-anchor="middle" fill="#fff">4</text>
<path d="M427.4 130L433.0 135.35L427.4 140.7ZM438.6 130L433.0 135.35L438.6 140.7Z" fill="#000" stroke="#000" stroke-width="0.6" stroke-linejoin="miter"/>
<path d="M431 131L433.5 135.5L436 131Z" fill="url(#hatch)"/>
<path d="M765.8 130L771.15 135.9L765.8 141.8ZM776.5 130L771.15 135.9L776.5 141.8Z" fill="#000" stroke="#000" stroke-width="0.6" stroke-linejoin="miter"/>
<rect x="779.2" y="129.8" width="6.8" height="13.0" fill="#000" stroke="none" stroke-width="1" />
<text x="782.6" y="139.9" font-size="10" text-anchor="middle" fill="#fff">6</text>
<path d="M769.5 131L772 136L774.5 131Z" fill="url(#hatch)"/>
<path d="M766.3 173.7L771.8 178.85L766.3 184ZM777.3 173.7L771.8 178.85L777.3 184Z" fill="#000" stroke="#000" stroke-width="0.9" stroke-linejoin="miter"/>
<rect x="780" y="171.5" width="6" height="12.1" fill="#000" stroke="none" stroke-width="1" />
<text x="783.0" y="181.15" font-size="10" text-anchor="middle" fill="#fff">7</text>
<path d="M881 130L886.0 137.25L881 144.5ZM891 130L886.0 137.25L891 144.5Z" fill="#000" stroke="#000" stroke-width="0.9" stroke-linejoin="miter"/>
<path d="M883 130.5L886 136.5L889 130.5Z" fill="url(#hatch)"/><path d="M883 144.5L886 138L889 144.5Z" fill="url(#hatch)"/>
<rect x="882" y="143.5" width="7" height="10.5" fill="#000" stroke="none" stroke-width="1" />
<text x="885.5" y="152.35" font-size="10" text-anchor="middle" fill="#fff">8</text>
<path d="M993 130L998.0 137.25L993 144.5ZM1003 130L998.0 137.25L1003 144.5Z" fill="#000" stroke="#000" stroke-width="0.9" stroke-linejoin="miter"/>
<path d="M995 130.5L998 136.5L1001 130.5Z" fill="url(#hatch)"/><path d="M995 144.5L998 138L1001 144.5Z" fill="url(#hatch)"/>
<rect x="994" y="143.5" width="7" height="10.5" fill="#000" stroke="none" stroke-width="1" />
<text x="997.5" y="152.35" font-size="10" text-anchor="middle" fill="#fff">9</text>
<rect x="1057.5" y="317" width="22.5" height="12.7" fill="#000" stroke="none" stroke-width="1" />
<rect x="1068" y="317.5" width="12" height="12.0" fill="#000" stroke="none" stroke-width="1" />
<text x="1074.0" y="327.1" font-size="10" text-anchor="middle" fill="#fff">10</text>
<path d="M1042 319H1057.5L1062 323.5L1057.5 328H1042Z" fill="url(#hatch)"/>
<path d="M1064 322.5L1066.5 324L1064 325.5Z" fill="url(#hatch)"/>
<path d="M210.7 517V520.5Q211.1 527.5 219.3 528.5H220.5V517Z" fill="#fff"/>
<path d="M210.9 518V520.5Q211.6 527 218.8 528.3H220.0V518.5" fill="none" stroke="#000" stroke-width="1"/>
<path d="M210.1 506.4L215.45 511.59999999999997L210.1 516.8ZM220.8 506.4L215.45 511.59999999999997L220.8 516.8Z" fill="#000" stroke="#000" stroke-width="0.6" stroke-linejoin="miter"/>
<path d="M212.1 506.2L215.45 511.2L218.8 506.2Z" fill="url(#hatch)"/><path d="M212.6 517L215.45 512.5L218.3 517Z" fill="url(#hatch)"/>
<rect x="224.2" y="506" width="11.8" height="11.7" fill="#000" stroke="none" stroke-width="1" />
<text x="230.1" y="515.45" font-size="10" text-anchor="middle" fill="#fff">14</text>
<path d="M458.90000000000003 517V520.5Q459.3 527.5 468.1 528.5H469.3V517Z" fill="#fff"/>
<path d="M459.1 518V520.5Q459.8 527 467.6 528.3H468.8V518.5" fill="none" stroke="#000" stroke-width="1"/>
<path d="M458.3 506.4L463.95000000000005 511.59999999999997L458.3 516.8ZM469.6 506.4L463.95000000000005 511.59999999999997L469.6 516.8Z" fill="#000" stroke="#000" stroke-width="0.6" stroke-linejoin="miter"/>
<path d="M460.3 506.2L463.95000000000005 511.2L467.6 506.2Z" fill="url(#hatch)"/><path d="M460.8 517L463.95000000000005 512.5L467.1 517Z" fill="url(#hatch)"/>
<rect x="471.4" y="506" width="11.6" height="11.7" fill="#000" stroke="none" stroke-width="1" />
<text x="477.2" y="515.45" font-size="10" text-anchor="middle" fill="#fff">13</text>
<path d="M698.9 517V520.5Q699.3 527.5 708.8 528.5H710.0V517Z" fill="#fff"/>
<path d="M699.0999999999999 518V520.5Q699.8 527 708.3 528.3H709.5V518.5" fill="none" stroke="#000" stroke-width="1"/>
<path d="M698.3 506.4L704.3 511.59999999999997L698.3 516.8ZM710.3 506.4L704.3 511.59999999999997L710.3 516.8Z" fill="#000" stroke="#000" stroke-width="0.6" stroke-linejoin="miter"/>
<path d="M700.3 506.2L704.3 511.2L708.3 506.2Z" fill="url(#hatch)"/><path d="M700.8 517L704.3 512.5L707.8 517Z" fill="url(#hatch)"/>
<rect x="712.5" y="507.2" width="12.0" height="11.7" fill="#000" stroke="none" stroke-width="1" />
<text x="718.5" y="516.65" font-size="10" text-anchor="middle" fill="#fff">12</text>
<path d="M940.6 517V520.5Q941 527.5 950.5 528.5H951.7V517Z" fill="#fff"/>
<path d="M940.8 518V520.5Q941.5 527 950 528.3H951.2V518.5" fill="none" stroke="#000" stroke-width="1"/>
<path d="M940 506.4L946.0 511.59999999999997L940 516.8ZM952 506.4L946.0 511.59999999999997L952 516.8Z" fill="#000" stroke="#000" stroke-width="0.6" stroke-linejoin="miter"/>
<path d="M942 506.2L946.0 511.2L950 506.2Z" fill="url(#hatch)"/><path d="M942.5 517L946.0 512.5L949.5 517Z" fill="url(#hatch)"/>
<rect x="954" y="506" width="12" height="11.7" fill="#000" stroke="none" stroke-width="1" />
<text x="960.0" y="515.45" font-size="10" text-anchor="middle" fill="#fff">11</text>
<path d="M144 271L149.75 276.1L155.5 271ZM144 281.2L149.75 276.1L155.5 281.2Z" fill="#000" stroke="#000" stroke-width="0.9" stroke-linejoin="miter"/>
<rect x="155.7" y="271.4" width="7.3" height="11.2" fill="#000" stroke="none" stroke-width="1" />
<text x="159.35" y="280.6" font-size="10" text-anchor="middle" fill="#fff">1</text>
<path d="M188.5 272.8L194.5 277.70000000000005L200.5 272.8ZM188.5 282.6L194.5 277.70000000000005L200.5 282.6Z" fill="#000" stroke="#000" stroke-width="0.9" stroke-linejoin="miter"/>
<rect x="200.9" y="272.5" width="5.8" height="11.2" fill="#000" stroke="none" stroke-width="1" />
<text x="203.8" y="281.7" font-size="10" text-anchor="middle" fill="#fff">2</text>
<path d="M143 276Q138.5 276 138 281" fill="none" stroke="#000" stroke-width="1"/>
<path d="M182 273Q182 279 188 280" fill="none" stroke="#000" stroke-width="1"/>
<path d="M144 205L138.5 205.5L140 209L143 209" fill="#fff" stroke="#000" stroke-width="1"/>
<path d="M187 235L182 236L185 240L182 244L187 245" fill="#fff" stroke="#000" stroke-width="1"/>
<rect x="143.8" y="283.3" width="35.0" height="6.5" fill="none" stroke="#555" stroke-width="0.9" />
<line x1="155.0" y1="283.3" x2="155.0" y2="289.8" stroke="#666" stroke-width="0.8" />
<line x1="157.1" y1="283.3" x2="157.1" y2="289.8" stroke="#666" stroke-width="0.8" />
<line x1="159.2" y1="283.3" x2="159.2" y2="289.8" stroke="#666" stroke-width="0.8" />
<line x1="161.3" y1="283.3" x2="161.3" y2="289.8" stroke="#666" stroke-width="0.8" />
<line x1="163.4" y1="283.3" x2="163.4" y2="289.8" stroke="#666" stroke-width="0.8" />
<line x1="165.5" y1="283.3" x2="165.5" y2="289.8" stroke="#666" stroke-width="0.8" />
<line x1="167.6" y1="283.3" x2="167.6" y2="289.8" stroke="#666" stroke-width="0.8" />
<line x1="169.7" y1="283.3" x2="169.7" y2="289.8" stroke="#666" stroke-width="0.8" />
<line x1="171.8" y1="283.3" x2="171.8" y2="289.8" stroke="#666" stroke-width="0.8" />
<line x1="155" y1="286.5" x2="171" y2="286.5" stroke="#bbb" stroke-width="0.9" />
<path d="M171.2 284.3L176.7 286.6L171.2 289Z" fill="#000"/>
<path d="M144.5 289L148.5 284H145" fill="none" stroke="#333" stroke-width="0.9"/>
<text x="149" y="289.3" font-size="5.5" text-anchor="start" fill="#222" font-weight="bold" textLength="6.12" lengthAdjust="spacingAndGlyphs"  >up</text>
<path d="M159 386.5L164.25 392.0L169.5 386.5ZM159 397.5L164.25 392.0L169.5 397.5Z" fill="#000" stroke="#000" stroke-width="0.9" stroke-linejoin="miter"/>
<rect x="170" y="386.5" width="12" height="12.5" fill="#000" stroke="none" stroke-width="1" />
<text x="176.0" y="396.35" font-size="10" text-anchor="middle" fill="#fff">16</text>
<path d="M156 469.5L161.75 475.25L167.5 469.5ZM156 481L161.75 475.25L167.5 481Z" fill="#000" stroke="#000" stroke-width="0.9" stroke-linejoin="miter"/>
<rect x="168" y="468" width="12.5" height="13" fill="#000" stroke="none" stroke-width="1" />
<text x="174.25" y="478.1" font-size="10" text-anchor="middle" fill="#fff">15</text>
<path d="M333.5 55.5L339.25 60.75L333.5 66ZM345 55.5L339.25 60.75L345 66Z" fill="#000" stroke="#000" stroke-width="0.9" stroke-linejoin="miter"/>
<rect x="347" y="53" width="11.5" height="12.5" fill="#000" stroke="none" stroke-width="1" />
<text x="352.75" y="62.85" font-size="10" text-anchor="middle" fill="#fff">30</text>
<path d="M333.5 71L339.25 76.5L333.5 82ZM345 71L339.25 76.5L345 82Z" fill="#000" stroke="#000" stroke-width="0.9" stroke-linejoin="miter"/>
<rect x="347" y="71" width="11.5" height="11.5" fill="#000" stroke="none" stroke-width="1" />
<text x="352.75" y="80.35" font-size="10" text-anchor="middle" fill="#fff">31</text>
<path d="M668 39L673.75 45.0L668 51ZM679.5 39L673.75 45.0L679.5 51Z" fill="#000" stroke="#000" stroke-width="0.9" stroke-linejoin="miter"/>
<rect x="681.5" y="39" width="6.5" height="12" fill="#000" stroke="none" stroke-width="1" />
<text x="684.75" y="48.6" font-size="10" text-anchor="middle" fill="#fff">7</text>
<path d="M667.5 70L673.5 76.0L667.5 82ZM679.5 70L673.5 76.0L679.5 82Z" fill="#FFFF00" stroke="#000" stroke-width="1.5" stroke-linejoin="miter"/>
<rect x="681.5" y="69.5" width="6.5" height="12.5" fill="#000" stroke="none" stroke-width="1" />
<text x="684.75" y="79.35" font-size="10" text-anchor="middle" fill="#fff">3</text>
<path d="M91.5 61H81V18H106.3V61H98.5" fill="none" stroke="#808080" stroke-width="1.7"/>
<line x1="84.5" y1="18" x2="93" y2="18" stroke="#ccc" stroke-width="1.7" />
<path d="M91.5 60.5Q92.5 54.5 98 54.3V60.5" fill="#fff" stroke="#000" stroke-width="1.1"/>
<text x="108" y="32" font-size="10" text-anchor="start" fill="#000" font-weight="bold" textLength="66.72" lengthAdjust="spacingAndGlyphs" stroke="#000" stroke-width="0.25" >Security Lodge</text>
<text x="339.5" y="17.5" font-size="10" text-anchor="middle" fill="#000" font-weight="bold" textLength="56.15" lengthAdjust="spacingAndGlyphs" stroke="#000" stroke-width="0.25" >Pump house</text>
<text x="339" y="29" font-size="10" text-anchor="middle" fill="#000" font-weight="bold" textLength="60.59" lengthAdjust="spacingAndGlyphs" stroke="#000" stroke-width="0.25" >&amp; water tanks</text>
<rect x="313" y="33.5" width="53.5" height="34.5" fill="none" stroke="#808080" stroke-width="1.5" />
<circle cx="275.5" cy="47.5" r="20.5" fill="none" stroke="#505050" stroke-width="1.5"/>
<circle cx="405" cy="48.5" r="21" fill="none" stroke="#505050" stroke-width="1.5"/>
<circle cx="276" cy="61.5" r="2.7" fill="none" stroke="#555" stroke-width="0.9"/>
<circle cx="405" cy="62.5" r="3" fill="none" stroke="#555" stroke-width="0.9"/>
<line x1="292.5" y1="39.3" x2="312" y2="39.3" stroke="#000" stroke-width="4.2" stroke-linecap="round"/>
<line x1="366" y1="37.8" x2="388" y2="37.8" stroke="#000" stroke-width="4.6" stroke-linecap="round"/>
<text x="555.5" y="48.5" font-size="10" text-anchor="start" fill="#000" font-weight="bold" textLength="75.05" lengthAdjust="spacingAndGlyphs" stroke="#000" stroke-width="0.25" >Emergency Light</text>
<text x="555" y="71.5" font-size="10" text-anchor="start" fill="#000" font-weight="bold" textLength="75.05" lengthAdjust="spacingAndGlyphs" stroke="#000" stroke-width="0.25" >Emergency Light</text>
<text x="592" y="83.5" font-size="10" text-anchor="middle" fill="#000" font-weight="bold" textLength="62.81" lengthAdjust="spacingAndGlyphs" stroke="#000" stroke-width="0.25" >constantly ON</text>
<line x1="142" y1="577.7" x2="777" y2="577.7" stroke="#3a3a3a" stroke-width="1.5" />
<line x1="526" y1="577.5" x2="722" y2="577.5" stroke="#000" stroke-width="2" />
<line x1="142" y1="622.8" x2="522" y2="622.8" stroke="#000" stroke-width="2.3" />
<line x1="522" y1="622.6" x2="777" y2="622.6" stroke="#333" stroke-width="1.6" />
<line x1="142" y1="578" x2="142" y2="740.5" stroke="#808080" stroke-width="1.6" />
<line x1="776.7" y1="577.5" x2="776.7" y2="623.5" stroke="#333" stroke-width="1.5" />
<line x1="186" y1="539" x2="186" y2="740.5" stroke="#808080" stroke-width="1.5" />
<line x1="142" y1="740" x2="186.5" y2="740" stroke="#808080" stroke-width="1.6" />
<path d="M186 539H238V557.5H220.5V622" fill="none" stroke="#808080" stroke-width="1.5"/>
<line x1="220.3" y1="578" x2="220.3" y2="622" stroke="#444" stroke-width="1.4" />
<line x1="142" y1="599" x2="186" y2="599" stroke="#808080" stroke-width="1.2" />
<rect x="215.5" y="543" width="19.0" height="10" fill="none" stroke="#333" stroke-width="1" />
<line x1="217.6" y1="543" x2="217.6" y2="553" stroke="#777" stroke-width="0.8" />
<line x1="219.7" y1="543" x2="219.7" y2="553" stroke="#777" stroke-width="0.8" />
<line x1="221.8" y1="543" x2="221.8" y2="553" stroke="#777" stroke-width="0.8" />
<line x1="223.9" y1="543" x2="223.9" y2="553" stroke="#777" stroke-width="0.8" />
<line x1="226.0" y1="543" x2="226.0" y2="553" stroke="#777" stroke-width="0.8" />
<line x1="228.1" y1="543" x2="228.1" y2="553" stroke="#777" stroke-width="0.8" />
<line x1="230.2" y1="543" x2="230.2" y2="553" stroke="#777" stroke-width="0.8" />
<line x1="232.3" y1="543" x2="232.3" y2="553" stroke="#777" stroke-width="0.8" />
<line x1="215.5" y1="548" x2="234.5" y2="548" stroke="#666" stroke-width="0.8" />
<text x="191.5" y="547.5" font-size="6.5" text-anchor="start" fill="#000" font-weight="bold" textLength="16.62" lengthAdjust="spacingAndGlyphs" stroke="#000" stroke-width="0.3" >Down</text>
<text x="204" y="555.5" font-size="6.5" text-anchor="start" fill="#000" font-weight="bold" textLength="8.31" lengthAdjust="spacingAndGlyphs" stroke="#000" stroke-width="0.3" >Up</text>
<path d="M199.7 572.8H209.5V578.5H199.7Z" fill="#fff"/><path d="M199.7 577.5V572.8L204.6 576.0999999999999L209.5 572.8V577.5" fill="none" stroke="#000" stroke-width="1.1"/>
<path d="M199.7 617.5H209.5V624H199.7Z" fill="#fff"/><path d="M199.7 623V617.5L204.6 620.8L209.5 617.5V623" fill="none" stroke="#000" stroke-width="1.1"/>
<line x1="220.5" y1="593.3" x2="249.5" y2="593.3" stroke="#808080" stroke-width="1" />
<line x1="220.5" y1="609.3" x2="263.8" y2="609.3" stroke="#aaa" stroke-width="1" />
<path d="M263.8 578V593H268.5M277 601V593H281.5V578" fill="none" stroke="#808080" stroke-width="1.1"/>
<line x1="282" y1="578" x2="282" y2="622" stroke="#777" stroke-width="1.5" />
<line x1="306.8" y1="578" x2="306.8" y2="609.5" stroke="#808080" stroke-width="1.1" />
<line x1="282" y1="609.3" x2="290" y2="609.3" stroke="#808080" stroke-width="1" />
<line x1="297.3" y1="609.3" x2="306.8" y2="609.3" stroke="#808080" stroke-width="1" />
<line x1="354.5" y1="578" x2="354.5" y2="611" stroke="#333" stroke-width="1" />
<line x1="433" y1="578" x2="433" y2="612" stroke="#808080" stroke-width="1" />
<line x1="453" y1="578" x2="453" y2="612" stroke="#808080" stroke-width="1" />
<path d="M220.5 580.8H229.5Q235.5 580.8 235.5 585Q235.5 589.2 229.5 589.2H220.5" fill="#fff" stroke="#555" stroke-width="0.9"/>
<ellipse cx="229.5" cy="585" rx="4.4" ry="3.2" fill="none" stroke="#333" stroke-width="0.8" stroke-dasharray="2 0.7"/>
<path d="M220.5 598.5H229.5Q235.5 598.5 235.5 602.7Q235.5 606.9000000000001 229.5 606.9000000000001H220.5" fill="#fff" stroke="#555" stroke-width="0.9"/>
<ellipse cx="229.5" cy="602.7" rx="4.4" ry="3.2" fill="none" stroke="#333" stroke-width="0.8" stroke-dasharray="2 0.7"/>
<rect x="445" y="584" width="7" height="25" fill="none" stroke="#999" stroke-width="0.8" />
<line x1="445" y1="586.3" x2="452" y2="586.3" stroke="#aaa" stroke-width="0.6" />
<line x1="445" y1="588.6" x2="452" y2="588.6" stroke="#aaa" stroke-width="0.6" />
<line x1="445" y1="590.9" x2="452" y2="590.9" stroke="#aaa" stroke-width="0.6" />
<line x1="445" y1="593.2" x2="452" y2="593.2" stroke="#aaa" stroke-width="0.6" />
<line x1="445" y1="595.5" x2="452" y2="595.5" stroke="#aaa" stroke-width="0.6" />
<line x1="445" y1="597.8" x2="452" y2="597.8" stroke="#aaa" stroke-width="0.6" />
<line x1="445" y1="600.1" x2="452" y2="600.1" stroke="#aaa" stroke-width="0.6" />
<line x1="445" y1="602.4" x2="452" y2="602.4" stroke="#aaa" stroke-width="0.6" />
<line x1="445" y1="604.7" x2="452" y2="604.7" stroke="#aaa" stroke-width="0.6" />
<line x1="445" y1="607.0" x2="452" y2="607.0" stroke="#aaa" stroke-width="0.6" />
<rect x="441" y="579" width="11" height="5" fill="none" stroke="#999" stroke-width="0.7" />
<path d="M433 613Q440 613 440 620L433 620" fill="none" stroke="#000" stroke-width="1"/>
<path d="M453 613Q460 613 460 620L453 620" fill="none" stroke="#000" stroke-width="1"/>
<line x1="753.3" y1="578" x2="753.3" y2="622" stroke="#555" stroke-width="1" />
<line x1="762.3" y1="579" x2="762.3" y2="608" stroke="#666" stroke-width="0.9" />
<rect x="762.3" y="579" width="3.7" height="7.5" fill="none" stroke="#555" stroke-width="0.8" />
<line x1="757" y1="579" x2="762" y2="585" stroke="#555" stroke-width="0.8" />
<line x1="753.3" y1="583.0" x2="762.3" y2="583.0" stroke="#777" stroke-width="0.7" />
<line x1="753.3" y1="585.4" x2="762.3" y2="585.4" stroke="#777" stroke-width="0.7" />
<line x1="753.3" y1="587.8" x2="762.3" y2="587.8" stroke="#777" stroke-width="0.7" />
<line x1="753.3" y1="590.2" x2="762.3" y2="590.2" stroke="#777" stroke-width="0.7" />
<line x1="753.3" y1="592.6" x2="762.3" y2="592.6" stroke="#777" stroke-width="0.7" />
<line x1="753.3" y1="595.0" x2="762.3" y2="595.0" stroke="#777" stroke-width="0.7" />
<line x1="753.3" y1="597.4" x2="762.3" y2="597.4" stroke="#777" stroke-width="0.7" />
<line x1="753.3" y1="599.8" x2="762.3" y2="599.8" stroke="#777" stroke-width="0.7" />
<line x1="753.3" y1="602.2" x2="762.3" y2="602.2" stroke="#777" stroke-width="0.7" />
<line x1="753.3" y1="604.6" x2="762.3" y2="604.6" stroke="#777" stroke-width="0.7" />
<line x1="753.3" y1="607.0" x2="762.3" y2="607.0" stroke="#777" stroke-width="0.7" />
<line x1="758" y1="591" x2="758" y2="607" stroke="#000" stroke-width="0.9" />
<path d="M755.3 594.5L758 588.5L760.7 594.5Z" fill="#000"/>
<text x="754.5" y="616" font-size="5.8" text-anchor="start" fill="#000" font-weight="bold" textLength="14.82" lengthAdjust="spacingAndGlyphs" stroke="#000" stroke-width="0.2" >Down</text>
<path d="M753.3 619.5H760V622" fill="none" stroke="#555" stroke-width="0.9"/>
<rect x="161.2" y="583.2" width="11.8" height="12.3" fill="#000" stroke="none" stroke-width="1" />
<text x="167.1" y="592.95" font-size="10" text-anchor="middle" fill="#fff">20</text>
<path d="M174.2 585.5L179.6 591.45L185 585.5ZM174.2 597.4L179.6 591.45L185 597.4Z" fill="#000" stroke="#000" stroke-width="1.8" stroke-linejoin="miter"/>
<rect x="161.2" y="599.7" width="11.8" height="11.3" fill="#000" stroke="none" stroke-width="1" />
<text x="167.1" y="608.95" font-size="10" text-anchor="middle" fill="#fff">19</text>
<path d="M173 601L179.0 606.25L185 601ZM173 611.5L179.0 606.25L185 611.5Z" fill="#000" stroke="#000" stroke-width="1.8" stroke-linejoin="miter"/>
<rect x="163.2" y="623.4" width="11.4" height="11.4" fill="#000" stroke="none" stroke-width="1" />
<text x="168.89999999999998" y="632.7" font-size="10" text-anchor="middle" fill="#fff">18</text>
<path d="M176.5 624.8L182.05 630.25L176.5 635.7ZM187.6 624.8L182.05 630.25L187.6 635.7Z" fill="#000" stroke="#000" stroke-width="0.9" stroke-linejoin="miter"/>
<path d="M177 613Q186 613 186.5 622" fill="none" stroke="#000" stroke-width="1"/>
<line x1="177" y1="613" x2="177" y2="622" stroke="#808080" stroke-width="1" />
<path d="M198.8 580L204.5 585.4L198.8 590.8ZM210.2 580L204.5 585.4L210.2 590.8Z" fill="#FFFF00" stroke="#000" stroke-width="1.1" stroke-linejoin="miter"/>
<rect x="198.6" y="592" width="11.4" height="10.5" fill="#000" stroke="none" stroke-width="1" />
<text x="204.3" y="600.85" font-size="10" text-anchor="middle" fill="#fff">21</text>
<path d="M239 582L244.4 587.15L249.8 582ZM239 592.3L244.4 587.15L249.8 592.3Z" fill="#000" stroke="#000" stroke-width="1.8" stroke-linejoin="miter"/>
<rect x="249.8" y="581.2" width="12.2" height="11.8" fill="#000" stroke="none" stroke-width="1" />
<text x="255.9" y="590.7" font-size="10" text-anchor="middle" fill="#fff">25</text>
<path d="M239 596.8L244.4 601.3L249.8 596.8ZM239 605.8L244.4 601.3L249.8 605.8Z" fill="#000" stroke="#000" stroke-width="1.8" stroke-linejoin="miter"/>
<rect x="249.8" y="595.2" width="12.2" height="12.3" fill="#000" stroke="none" stroke-width="1" />
<text x="255.9" y="604.95" font-size="10" text-anchor="middle" fill="#fff">24</text>
<path d="M221.2 611.8L226.45 616.3L231.7 611.8ZM221.2 620.8L226.45 616.3L231.7 620.8Z" fill="#000" stroke="#000" stroke-width="1.8" stroke-linejoin="miter"/>
<rect x="231.7" y="611" width="12.3" height="10.7" fill="#000" stroke="none" stroke-width="1" />
<text x="237.85" y="619.95" font-size="10" text-anchor="middle" fill="#fff">22</text>
<path d="M267.2 601.2L272.6 606.6L267.2 612ZM278 601.2L272.6 606.6L278 612Z" fill="#000" stroke="#000" stroke-width="0.9" stroke-linejoin="miter"/>
<rect x="266.3" y="612" width="11.7" height="11.8" fill="#000" stroke="none" stroke-width="1" />
<text x="272.15" y="621.5" font-size="10" text-anchor="middle" fill="#fff">23</text>
<path d="M268.5 593Q269.5 600.5 277 601" fill="none" stroke="#000" stroke-width="1"/>
<path d="M283 610.8L287.45 615.8L291.9 610.8ZM283 620.8L287.45 615.8L291.9 620.8Z" fill="#000" stroke="#000" stroke-width="1.8" stroke-linejoin="miter"/>
<rect x="291.9" y="610" width="13.1" height="11.7" fill="#000" stroke="none" stroke-width="1" />
<text x="298.45" y="619.45" font-size="10" text-anchor="middle" fill="#fff">26</text>
<path d="M290 609.3Q290.5 601.5 297.3 601V609.3" fill="none" stroke="#000" stroke-width="1"/>
<rect x="331" y="610.8" width="11.3" height="11.2" fill="#000" stroke="none" stroke-width="1" />
<text x="336.65" y="620.0" font-size="10" text-anchor="middle" fill="#fff">27</text>
<path d="M342.3 610.3L348.15 616.15L354 610.3ZM342.3 622L348.15 616.15L354 622Z" fill="#000" stroke="#000" stroke-width="1.8" stroke-linejoin="miter"/>
<path d="M354 610.3L359.9 616.15L365.8 610.3ZM354 622L359.9 616.15L365.8 622Z" fill="#000" stroke="#000" stroke-width="1.8" stroke-linejoin="miter"/>
<rect x="365.8" y="608.8" width="10.8" height="12.2" fill="#000" stroke="none" stroke-width="1" />
<text x="371.20000000000005" y="618.5" font-size="10" text-anchor="middle" fill="#fff">28</text>
<rect x="407.4" y="612" width="11.4" height="11.8" fill="#000" stroke="none" stroke-width="1" />
<text x="413.1" y="621.5" font-size="10" text-anchor="middle" fill="#fff">29</text>
<path d="M419.3 611.5L424.65 616.95L430 611.5ZM419.3 622.4L424.65 616.95L430 622.4Z" fill="#FFFF00" stroke="#000" stroke-width="1" stroke-linejoin="miter"/>
<rect x="163" y="708" width="13.5" height="12.6" fill="#000" stroke="none" stroke-width="1" />
<text x="169.75" y="717.9" font-size="10" text-anchor="middle" fill="#fff">17</text>
<path d="M176.9 708.3L182.3 714.15L176.9 720ZM187.7 708.3L182.3 714.15L187.7 720Z" fill="#000" stroke="#000" stroke-width="0.9" stroke-linejoin="miter"/>
<line x1="142" y1="721.7" x2="176" y2="721.7" stroke="#808080" stroke-width="1" />
<rect x="143.3" y="732.3" width="34.7" height="7.0" fill="none" stroke="#555" stroke-width="0.9" />
<line x1="159" y1="732.3" x2="159" y2="739.3" stroke="#666" stroke-width="0.8" />
<line x1="161" y1="732.3" x2="161" y2="739.3" stroke="#666" stroke-width="0.8" />
<line x1="163" y1="732.3" x2="163" y2="739.3" stroke="#666" stroke-width="0.8" />
<line x1="165" y1="732.3" x2="165" y2="739.3" stroke="#666" stroke-width="0.8" />
<line x1="167" y1="732.3" x2="167" y2="739.3" stroke="#666" stroke-width="0.8" />
<line x1="169" y1="732.3" x2="169" y2="739.3" stroke="#666" stroke-width="0.8" />
<line x1="171" y1="732.3" x2="171" y2="739.3" stroke="#666" stroke-width="0.8" />
<line x1="173" y1="732.3" x2="173" y2="739.3" stroke="#666" stroke-width="0.8" />
<line x1="175" y1="732.3" x2="175" y2="739.3" stroke="#666" stroke-width="0.8" />
<line x1="177" y1="732.3" x2="177" y2="739.3" stroke="#666" stroke-width="0.8" />
<line x1="158" y1="735.8" x2="178" y2="735.8" stroke="#ccc" stroke-width="1" />
<path d="M144.5 738.5L148 733M148 738.5L151.5 733M151 738.5L153 735" fill="none" stroke="#444" stroke-width="0.9"/>
<path d="M157.5 732.8L154.5 736L157.5 739" fill="none" stroke="#000" stroke-width="1.3"/>
<path d="M176 735L178 736.5L176 738Z" fill="#000"/>
<text x="186" y="737.8" font-size="7.5" text-anchor="start" fill="#000" font-weight="bold" textLength="19.18" lengthAdjust="spacingAndGlyphs" stroke="#000" stroke-width="0.2" >Down</text>
<rect x="795.5" y="695.5" width="307.0" height="69.0" fill="#fff" stroke="#000" stroke-width="1.8" />
<line x1="964" y1="695" x2="964" y2="765" stroke="#000" stroke-width="1.5" />
<line x1="964" y1="713.5" x2="1102" y2="713.5" stroke="#000" stroke-width="1.2" />
<line x1="795" y1="732" x2="1102" y2="732" stroke="#000" stroke-width="1.4" />
<line x1="964" y1="747.2" x2="1102" y2="747.2" stroke="#000" stroke-width="1.3" />
<line x1="1033" y1="729" x2="1033" y2="747" stroke="#000" stroke-width="1.1" />
<line x1="1010.7" y1="747" x2="1010.7" y2="765" stroke="#000" stroke-width="1.1" />
<line x1="1056.5" y1="747" x2="1056.5" y2="765" stroke="#000" stroke-width="1.1" />
<line x1="795" y1="737.3" x2="964" y2="737.3" stroke="#000" stroke-width="1.2" />
<line x1="795" y1="743.2" x2="964" y2="743.2" stroke="#000" stroke-width="1.3" />
<line x1="821" y1="737.3" x2="821" y2="765" stroke="#000" stroke-width="1.2" />
<line x1="852.7" y1="737.3" x2="852.7" y2="765" stroke="#000" stroke-width="1.2" />
<line x1="871" y1="737.3" x2="871" y2="765" stroke="#000" stroke-width="1.2" />
<text x="798" y="725" font-size="9" fill="#1F5FB0" textLength="164" lengthAdjust="spacingAndGlyphs">The Gift Wrap Company</text>
<text x="839.5" y="730.3" font-size="4" fill="#1F5FB0" font-weight="bold" textLength="81" lengthAdjust="spacingAndGlyphs">Scandinavian Design Ltd</text>
<path d="M831 699.5Q836 701 839 705Q841 708 843 710Q838 707 835.5 704Q833 701 831 699.5Z" fill="#19A3DC"/>
<path d="M862 706Q857 705.5 853.5 708.5Q851 710.5 849.5 712.5Q853 710.5 856 709Q859.5 707.5 862 706Z" fill="#F7941D"/>
<path d="M827 710.5Q831 709.5 834.5 712Q837 714 840 716Q835 715 832 713.5Q829 712 827 710.5Z" fill="#ED2B50"/>
<text x="796.5" y="736.6" font-size="5.5" text-anchor="start" fill="#000" font-weight="bold" textLength="33.62" lengthAdjust="spacingAndGlyphs" stroke="#000" stroke-width="0.22" >Modifications:</text>
<text x="808" y="742.6" font-size="5" text-anchor="middle" fill="#000" font-weight="bold" textLength="15.84" lengthAdjust="spacingAndGlyphs" stroke="#000" stroke-width="0.22" >Drawn:</text>
<text x="837" y="742.6" font-size="5" text-anchor="middle" fill="#000" font-weight="bold" textLength="11.95" lengthAdjust="spacingAndGlyphs" stroke="#000" stroke-width="0.22" >Date:</text>
<text x="862" y="742.6" font-size="5" text-anchor="middle" fill="#000" font-weight="bold" textLength="13.34" lengthAdjust="spacingAndGlyphs" stroke="#000" stroke-width="0.22" >Issue:</text>
<text x="873" y="742.6" font-size="5" text-anchor="start" fill="#000" font-weight="bold" textLength="26.4" lengthAdjust="spacingAndGlyphs" stroke="#000" stroke-width="0.22" >Description:</text>
<text x="808" y="756.3" font-size="8" text-anchor="middle" fill="#000" font-weight="bold" textLength="10.67" lengthAdjust="spacingAndGlyphs" stroke="#000" stroke-width="0.35" >AK</text>
<text x="837.3" y="756.3" font-size="8" text-anchor="middle" fill="#000" font-weight="bold" textLength="31.14" lengthAdjust="spacingAndGlyphs" stroke="#000" stroke-width="0.35" >20/08/14</text>
<text x="918" y="753.7" font-size="8" text-anchor="middle" fill="#000" font-weight="bold" textLength="84.92" lengthAdjust="spacingAndGlyphs" stroke="#000" stroke-width="0.35" >Fire exits, Extinguishers</text>
<text x="918" y="762.3" font-size="8" text-anchor="middle" fill="#000" font-weight="bold" textLength="44.91" lengthAdjust="spacingAndGlyphs" stroke="#000" stroke-width="0.35" >&amp; Call points</text>
<text x="969.5" y="704.5" font-size="6" text-anchor="start" fill="#000" font-weight="bold" textLength="24.36" lengthAdjust="spacingAndGlyphs" stroke="#000" stroke-width="0.22" >Location:</text>
<text x="1005" y="711" font-size="8" text-anchor="start" fill="#000" font-weight="bold" textLength="80.93" lengthAdjust="spacingAndGlyphs" stroke="#000" stroke-width="0.35" >Hisesun Building No. 2</text>
<text x="969.5" y="721" font-size="6" text-anchor="start" fill="#000" font-weight="bold" textLength="12.79" lengthAdjust="spacingAndGlyphs" stroke="#000" stroke-width="0.22" >Title:</text>
<text x="978" y="729" font-size="8" text-anchor="start" fill="#000" font-weight="bold" textLength="40.03" lengthAdjust="spacingAndGlyphs" stroke="#000" stroke-width="0.35" >Site Layout</text>
<text x="967" y="738" font-size="6" text-anchor="start" fill="#000" font-weight="bold" textLength="33.02" lengthAdjust="spacingAndGlyphs" stroke="#000" stroke-width="0.22" >Drawing No.</text>
<text x="967" y="746" font-size="8" text-anchor="start" fill="#000" font-weight="bold" textLength="35.58" lengthAdjust="spacingAndGlyphs" stroke="#000" stroke-width="0.35" >SD/15004</text>
<text x="1035.5" y="739" font-size="6" text-anchor="start" fill="#000" font-weight="bold" textLength="16.68" lengthAdjust="spacingAndGlyphs" stroke="#000" stroke-width="0.22" >Scale:</text>
<text x="1038" y="746" font-size="8" text-anchor="start" fill="#000" font-weight="bold" textLength="44.47" lengthAdjust="spacingAndGlyphs" stroke="#000" stroke-width="0.35" >Do not scale</text>
<text x="967" y="754" font-size="6" text-anchor="start" fill="#000" font-weight="bold" textLength="19.01" lengthAdjust="spacingAndGlyphs" stroke="#000" stroke-width="0.22" >Drawn:</text>
<text x="969.5" y="763" font-size="8" text-anchor="start" fill="#000" font-weight="bold" textLength="11.55" lengthAdjust="spacingAndGlyphs" stroke="#000" stroke-width="0.35" >JW</text>
<text x="1013" y="754" font-size="6" text-anchor="start" fill="#000" font-weight="bold" textLength="14.35" lengthAdjust="spacingAndGlyphs" stroke="#000" stroke-width="0.22" >Date:</text>
<text x="1011.5" y="763" font-size="8" text-anchor="start" fill="#000" font-weight="bold" textLength="31.14" lengthAdjust="spacingAndGlyphs" stroke="#000" stroke-width="0.35" >02/10/05</text>
<text x="1058.5" y="753.5" font-size="6" text-anchor="start" fill="#000" font-weight="bold" textLength="16.01" lengthAdjust="spacingAndGlyphs" stroke="#000" stroke-width="0.22" >Issue:</text>
<text x="1062" y="762" font-size="8" text-anchor="start" fill="#000" font-weight="bold" textLength="13.35" lengthAdjust="spacingAndGlyphs" stroke="#000" stroke-width="0.35" >001</text>
<rect x="0" y="0" width="1" height="766" fill="#000" stroke="none" stroke-width="1" />
<rect x="1105" y="0" width="1" height="766" fill="#000" stroke="none" stroke-width="1" />
<rect x="0" y="765" width="1106" height="1" fill="#000" stroke="none" stroke-width="1" />
</svg>
</body></html>
